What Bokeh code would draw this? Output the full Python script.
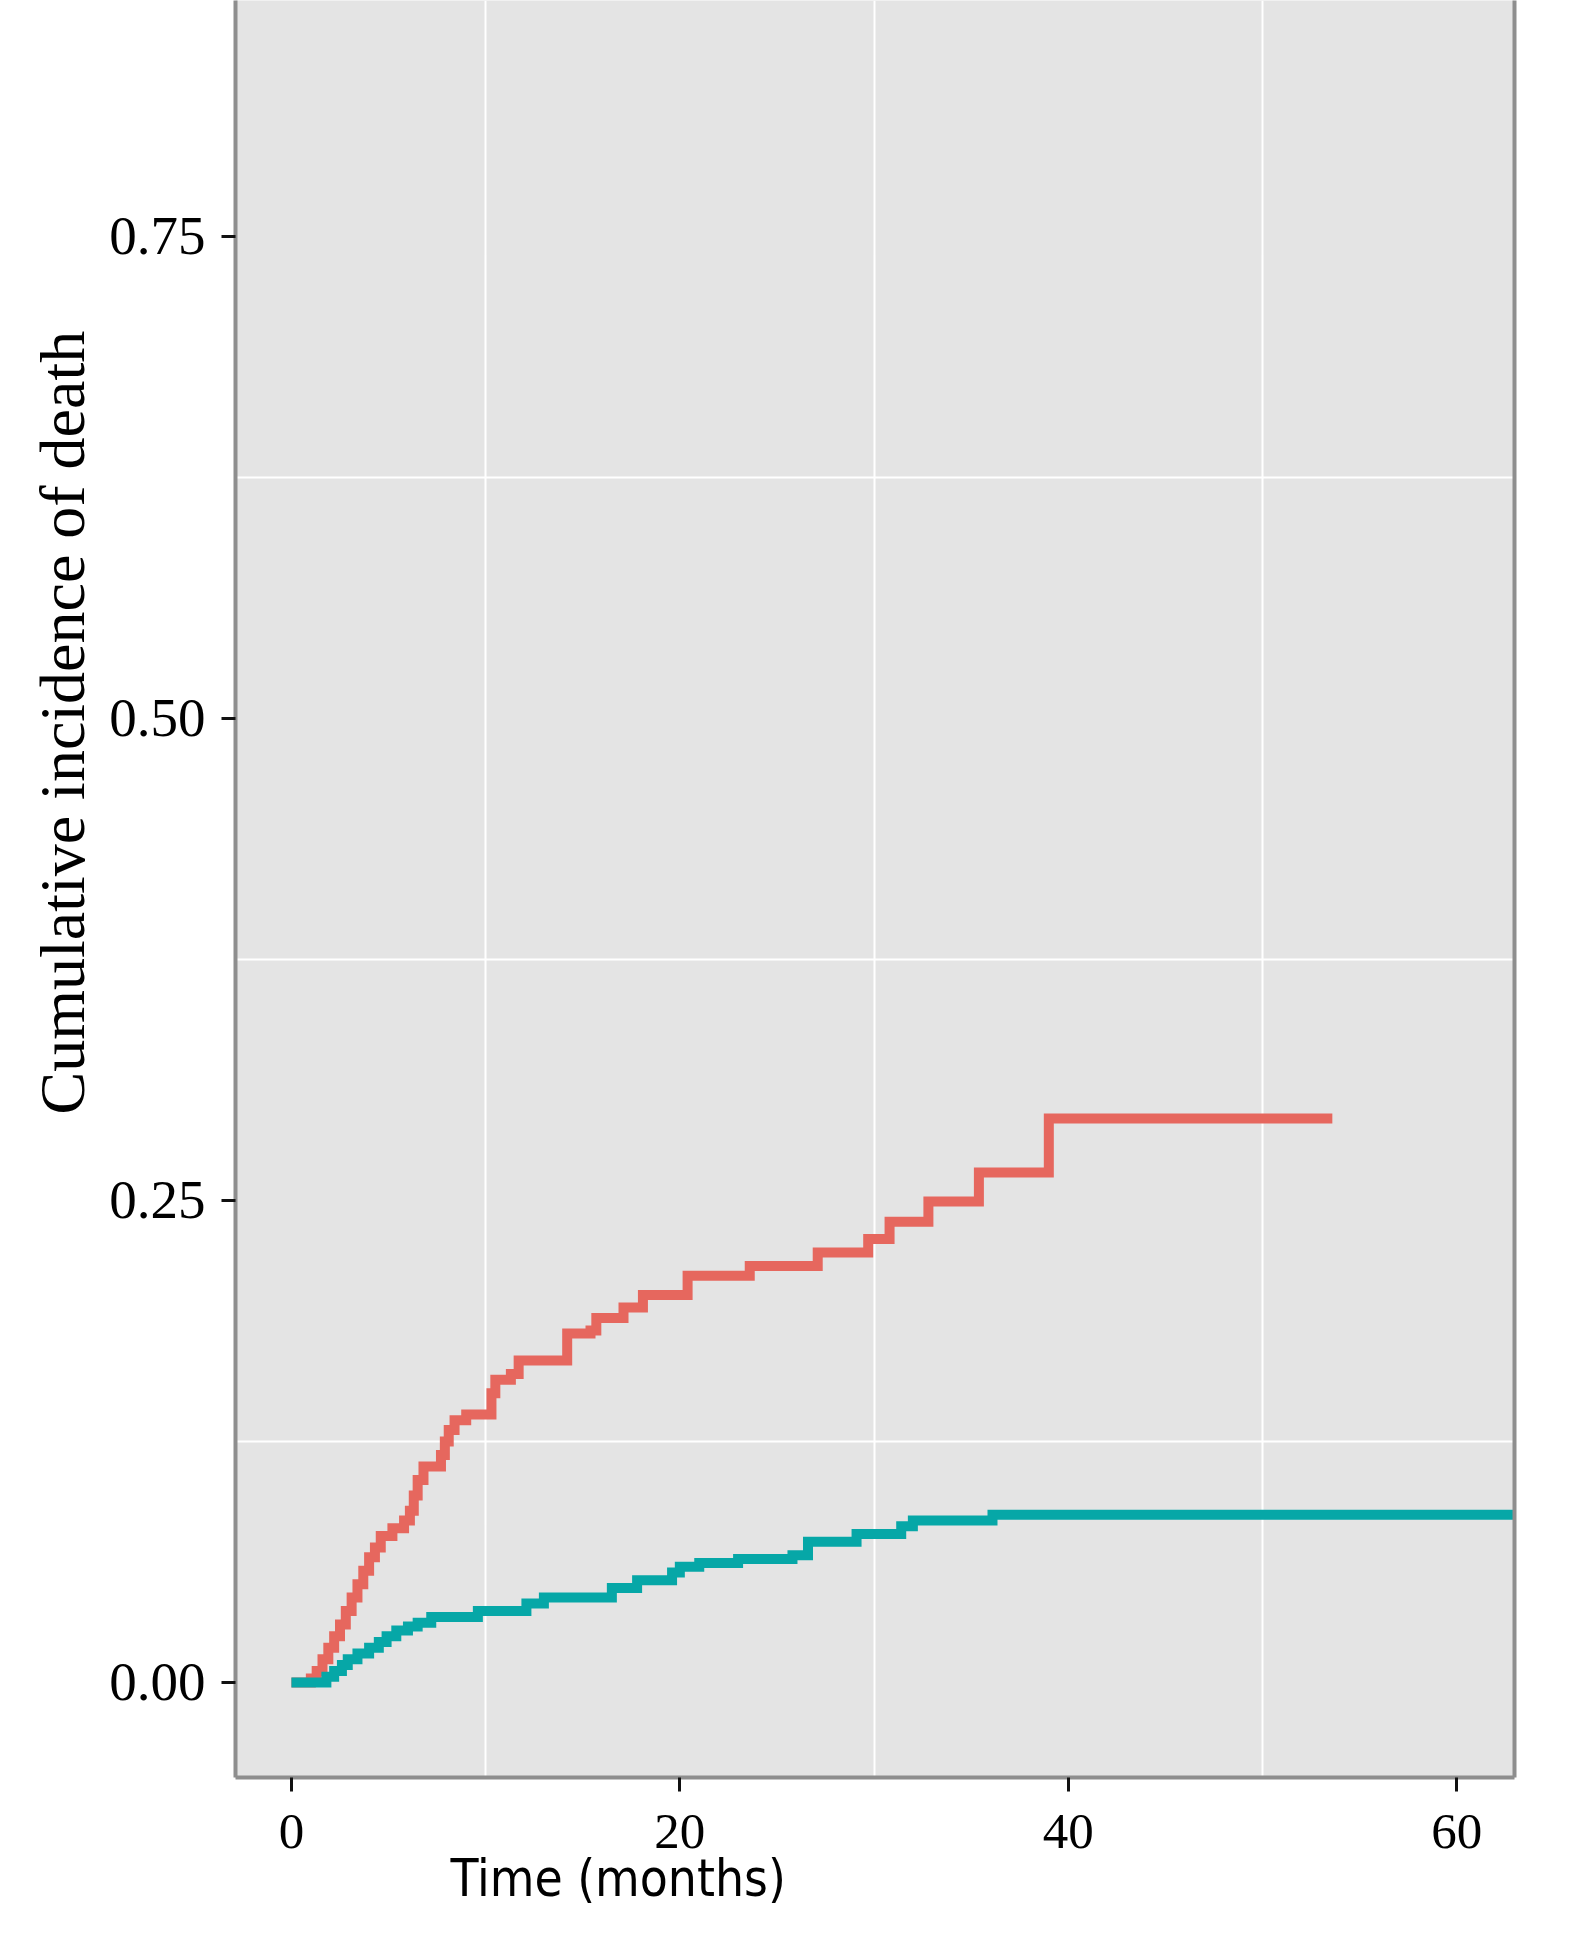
from bokeh.plotting import figure
from bokeh.models import (ColumnDataSource, FixedTicker, NumeralTickFormatter,
                          LinearAxis, Title)
from bokeh.embed import file_html
from bokeh.resources import INLINE

# ---- data ----
red_time = [0, 1.0, 1.3, 1.6, 1.9, 2.2, 2.5, 2.8, 3.1, 3.4, 3.7, 4.0, 4.3, 4.6,
            5.2, 5.8, 6.1, 6.3, 6.5, 6.8, 7.7, 7.9, 8.1, 8.4, 9.0, 10.3, 10.5,
            11.3, 11.7, 14.2, 15.4, 15.7, 17.1, 18.1, 20.4, 23.6, 27.1, 29.7,
            30.8, 32.8, 35.4, 39.0, 53.6]
red_cif = [0, 0.002, 0.006, 0.012, 0.018, 0.024, 0.030, 0.037, 0.044, 0.051,
           0.058, 0.065, 0.070, 0.076, 0.080, 0.084, 0.089, 0.097, 0.105, 0.112,
           0.118, 0.125, 0.131, 0.136, 0.139, 0.150, 0.157, 0.160, 0.167, 0.181,
           0.1826, 0.189, 0.1945, 0.201, 0.211, 0.216, 0.223, 0.230, 0.239,
           0.2495, 0.2645, 0.2925, 0.2925]

teal_time = [0, 1.8, 2.2, 2.6, 2.9, 3.4, 4.0, 4.5, 4.9, 5.4, 6.0, 6.5, 7.2, 9.6,
             12.1, 13.0, 16.5, 17.8, 19.6, 20.0, 21.0, 23.0, 25.8, 26.6, 29.1,
             31.4, 32.0, 36.1, 66.0]
teal_cif = [0, 0.003, 0.006, 0.009, 0.012, 0.015, 0.018, 0.021, 0.024, 0.027,
            0.029, 0.031, 0.034, 0.037, 0.041, 0.044, 0.049, 0.053, 0.057,
            0.060, 0.062, 0.064, 0.066, 0.073, 0.077, 0.081, 0.084, 0.087, 0.087]

x_ticks = [0, 20, 40, 60]
y_ticks = [0, 0.25, 0.50, 0.75]
x_grid = [10, 30, 50]
y_grid = [0.125, 0.375, 0.625]

x_title = "Time (months)"
y_title = "Cumulative incidence of death"

SERIF = "Liberation Serif"
NARROW = "'Liberation Sans Narrow', 'DejaVu Sans Condensed', sans-serif"
BORDER = "#8E8E8E"

p = figure(width=1559, height=1935,
           x_range=(-2.88, 62.98), y_range=(-0.0493, 0.8724),
           output_backend="svg", toolbar_location=None,
           min_border_left=235, min_border_right=45,
           min_border_top=0, min_border_bottom=158)

p.background_fill_color = "#E4E4E4"
p.border_fill_color = "white"
p.outline_line_color = None

# grid
p.xgrid.ticker = FixedTicker(ticks=x_grid)
p.ygrid.ticker = FixedTicker(ticks=y_grid)
p.grid.grid_line_color = "white"
p.grid.grid_line_width = 2

# axes
p.xaxis.ticker = FixedTicker(ticks=x_ticks)
p.yaxis.ticker = FixedTicker(ticks=y_ticks)
p.yaxis.formatter = NumeralTickFormatter(format="0.00")
for ax in (p.xaxis[0], p.yaxis[0]):
    ax.axis_line_color = BORDER
    ax.axis_line_width = 4
    ax.major_tick_line_color = "#111111"
    ax.major_tick_line_width = 3
    ax.major_tick_out = 14
    ax.major_tick_in = 0
    ax.minor_tick_line_color = None
    ax.major_label_text_font = SERIF
    ax.major_label_text_color = "black"
p.xaxis.major_label_text_font_size = "51px"
p.yaxis.major_label_text_font_size = "55px"
p.yaxis.major_label_standoff = 16
p.xaxis.major_label_standoff = 23

right_ax = LinearAxis(ticker=FixedTicker(ticks=[]), axis_line_color=BORDER,
                      axis_line_width=4, major_tick_line_color=None,
                      minor_tick_line_color=None, major_label_text_color=None)
p.add_layout(right_ax, "right")

# curves
src_red = ColumnDataSource(dict(t=red_time, c=red_cif))
src_teal = ColumnDataSource(dict(t=teal_time, c=teal_cif))
p.step(x="t", y="c", source=src_red, mode="after", line_color="#E6675E",
       line_width=10, line_join="miter", line_cap="butt")
p.step(x="t", y="c", source=src_teal, mode="after", line_color="#06A7A7",
       line_width=10, line_join="miter", line_cap="butt")

# axis titles, placed off-centre as in the reference
p.add_layout(Title(text=x_title, align="left", offset=215, vertical_align="top",
                   standoff=-3, text_font=NARROW, text_font_size="51px",
                   text_font_style="normal", text_color="black"), "below")
p.add_layout(Title(text=y_title, align="left", offset=663, vertical_align="bottom",
                   standoff=18, text_font=SERIF, text_font_size="64px",
                   text_font_style="normal", text_color="black"), "left")

open("out.html", "w").write(file_html(p, INLINE))
